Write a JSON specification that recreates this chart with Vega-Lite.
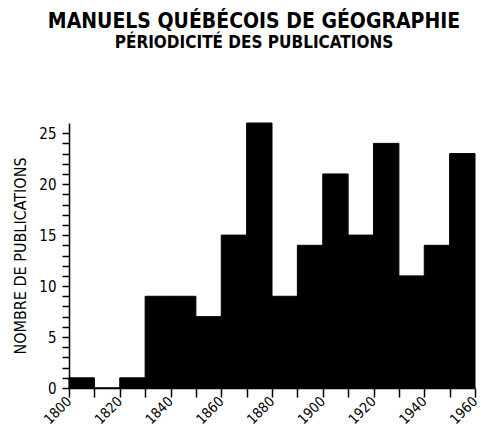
{
  "$schema": "https://vega.github.io/schema/vega-lite/v6.json",
  "width": 406,
  "height": 265,
  "autosize": "none",
  "padding": {"left": 69, "top": 123, "right": 6, "bottom": 43},
  "background": "white",
  "title": {
    "text": "MANUELS QUÉBÉCOIS DE GÉOGRAPHIE",
    "subtitle": "PÉRIODICITÉ DES PUBLICATIONS",
    "anchor": "middle",
    "dx": -18,
    "offset": 72,
    "font": "DejaVu Sans Condensed, sans-serif",
    "fontSize": 21,
    "fontWeight": "bold",
    "color": "black",
    "subtitleFont": "DejaVu Sans Condensed, sans-serif",
    "subtitleFontSize": 17,
    "subtitleFontWeight": "bold",
    "subtitleColor": "black",
    "subtitlePadding": 3
  },
  "data": {
    "values": [
      {"start": 1800, "end": 1810, "n": 1},
      {"start": 1810, "end": 1820, "n": 0},
      {"start": 1820, "end": 1830, "n": 1},
      {"start": 1830, "end": 1840, "n": 9},
      {"start": 1840, "end": 1850, "n": 9},
      {"start": 1850, "end": 1860, "n": 7},
      {"start": 1860, "end": 1870, "n": 15},
      {"start": 1870, "end": 1880, "n": 26},
      {"start": 1880, "end": 1890, "n": 9},
      {"start": 1890, "end": 1900, "n": 14},
      {"start": 1900, "end": 1910, "n": 21},
      {"start": 1910, "end": 1920, "n": 15},
      {"start": 1920, "end": 1930, "n": 24},
      {"start": 1930, "end": 1940, "n": 11},
      {"start": 1940, "end": 1950, "n": 14},
      {"start": 1950, "end": 1960, "n": 23}
    ]
  },
  "mark": {"type": "rect", "fill": "black", "stroke": "black", "strokeWidth": 1},
  "encoding": {
    "x": {
      "field": "start",
      "type": "quantitative",
      "scale": {"domain": [1800, 1960], "nice": false, "zero": false},
      "axis": {
        "title": null,
        "grid": false,
        "values": [1800, 1810, 1820, 1830, 1840, 1850, 1860, 1870, 1880, 1890, 1900, 1910, 1920, 1930, 1940, 1950, 1960],
        "format": "d",
        "labelExpr": "datum.value % 20 == 0 ? datum.label : ''",
        "labelAngle": -45,
        "labelAlign": "right",
        "labelBaseline": "middle",
        "labelPadding": 2,
        "labelFont": "DejaVu Sans Condensed, sans-serif",
        "labelFontSize": 14,
        "labelColor": "black",
        "tickColor": "black",
        "tickSize": 9,
        "tickWidth": 1.5,
        "domainColor": "black",
        "domainWidth": 1.5,
        "labelOverlap": false,
        "labelFlush": false,
        "labelBound": false
      }
    },
    "x2": {"field": "end"},
    "y": {
      "field": "n",
      "type": "quantitative",
      "scale": {"domain": [0, 26], "nice": false},
      "axis": {
        "title": "NOMBRE DE PUBLICATIONS",
        "titleFont": "DejaVu Sans Condensed, sans-serif",
        "titleFontSize": 16,
        "titleFontWeight": "normal",
        "titleColor": "black",
        "titlePadding": 10,
        "grid": false,
        "values": [0,1,2,3,4,5,6,7,8,9,10,11,12,13,14,15,16,17,18,19,20,21,22,23,24,25],
        "labelExpr": "datum.value % 5 == 0 ? datum.label : ''",
        "labelFont": "DejaVu Sans Condensed, sans-serif",
        "labelFontSize": 15,
        "labelColor": "black",
        "labelPadding": 6,
        "tickColor": "black",
        "tickSize": 7,
        "tickWidth": 1.5,
        "domainColor": "black",
        "domainWidth": 1.5,
        "labelOverlap": false
      }
    }
  },
  "config": {"view": {"stroke": null}}
}
